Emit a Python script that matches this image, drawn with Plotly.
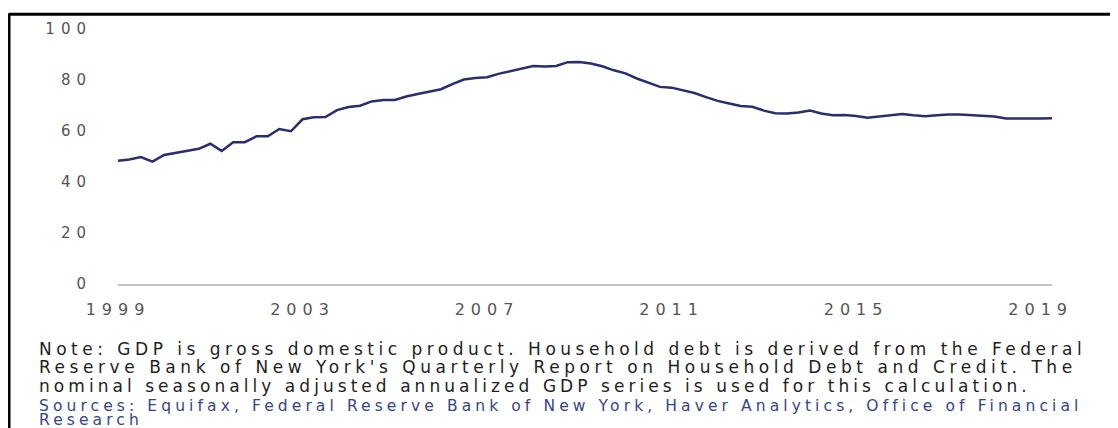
import plotly.graph_objects as go
import pandas as pd

# ---- data (quarterly household debt to GDP, percent) ----
start_quarter = "1999-01-01"
debt_to_gdp = [
    48.3, 48.8, 49.8, 48.0, 50.6, 51.3, 52.0, 53.0, 55.0, 52.2,
    55.6, 55.6, 57.9, 57.9, 60.8, 59.9, 64.6, 65.4, 65.5, 68.2,
    69.4, 69.9, 71.6, 72.2, 72.2, 73.5, 74.5, 75.3, 76.4, 78.4,
    80.2, 80.8, 81.1, 82.4, 83.4, 84.2, 85.5, 85.3, 85.5, 87.0,
    87.1, 86.5, 85.4, 83.8, 82.6, 80.6, 79.0, 77.3, 77.0, 76.0,
    74.9, 73.3, 71.8, 70.8, 69.8, 69.5, 68.0, 67.0, 66.9, 67.3,
    68.0, 66.9, 66.2, 66.3, 65.9, 65.2, 65.7, 66.2, 66.7, 66.2,
    65.8, 66.2, 66.5, 66.5, 66.3, 66.1, 65.7, 64.9, 65.0, 64.9,
    64.9, 65.0,
]
dates = pd.date_range(start_quarter, periods=len(debt_to_gdp), freq="QS")

x_tick_years = ["1999", "2003", "2007", "2011", "2015", "2019"]
y_tick_values = [0, 20, 40, 60, 80, 100]

note_lines = [
    "Note: GDP is gross domestic product. Household debt is derived from the Federal",
    "Reserve Bank of New York's Quarterly Report on Household Debt and Credit. The",
    "nominal seasonally adjusted annualized GDP series is used for this calculation.",
]
source_lines = [
    "Sources: Equifax, Federal Reserve Bank of New York, Haver Analytics, Office of Financial",
    "Research",
]

# ---- geometry (pixels; the page adds an 8px body margin) ----
OFF = 8
W, H = 1118 - OFF, 428 - OFF
L = 118 - OFF
R = W - (1052 - OFF)
T = 27 - OFF
B = H - (284.3 - OFF)
PW, PH = W - L - R, H - T - B


def px_x(x):  # x in reference-picture pixels
    return (x - OFF - L) / PW


def px_y(y):  # y in reference-picture pixels
    return (H - B - (y - OFF)) / PH


FONT = "DejaVu Sans"


def spaced(text, ls):
    return f'<span style="letter-spacing:{ls}px">{text}</span>'


fig = go.Figure()
fig.add_trace(go.Scatter(
    x=dates, y=debt_to_gdp, mode="lines",
    line=dict(color="#282e6e", width=2.5),
    hoverinfo="skip", showlegend=False,
))

fig.update_layout(
    width=W, height=H,
    margin=dict(l=L, r=R, t=T, b=B, pad=0),
    paper_bgcolor="white", plot_bgcolor="white",
    font=dict(family=FONT, color="#555555"),
    xaxis=dict(
        type="date",
        range=[dates[0], dates[-1]],
        tickvals=[pd.Timestamp(f"{y}-01-01") for y in x_tick_years],
        ticktext=[spaced(y, 6) for y in x_tick_years],
        tickfont=dict(size=16, color="#555555"),
        showgrid=False, zeroline=False,
        showline=True, linecolor="#c4c4c4", linewidth=2,
        ticks="", ticklabelstandoff=10,
    ),
    yaxis=dict(
        range=[0, 100],
        tickvals=y_tick_values,
        ticktext=[spaced(str(v), 6) for v in y_tick_values],
        tickfont=dict(size=15, color="#555555"),
        showgrid=False, zeroline=False, showline=False,
        ticks="", ticklabelstandoff=25,
    ),
)

note_y = [350, 368.5, 387]
note_ls = [4.5, 4.55, 4.05]
for txt, yy, ls in zip(note_lines, note_y, note_ls):
    fig.add_annotation(
        text=spaced(txt, ls), xref="paper", yref="paper",
        x=px_x(37), y=px_y(yy), xanchor="left", yanchor="middle",
        showarrow=False, font=dict(size=17, color="#1e1e1e", family=FONT),
    )
src_y = [407.5, 421.5]
for txt, yy in zip(source_lines, src_y):
    fig.add_annotation(
        text=spaced(txt, 4.1), xref="paper", yref="paper",
        x=px_x(37), y=px_y(yy), xanchor="left", yanchor="middle",
        showarrow=False, font=dict(size=15.5, color="#34468a", family=FONT),
    )

# frame (top and left black border)
fig.add_shape(type="line", xref="paper", yref="paper",
              x0=px_x(9), x1=px_x(1118 + 5), y0=px_y(12), y1=px_y(12),
              line=dict(color="black", width=3))
fig.add_shape(type="line", xref="paper", yref="paper",
              x0=px_x(9), x1=px_x(9), y0=px_y(11), y1=px_y(428 + 5),
              line=dict(color="black", width=3))

fig.write_html("out.html")
